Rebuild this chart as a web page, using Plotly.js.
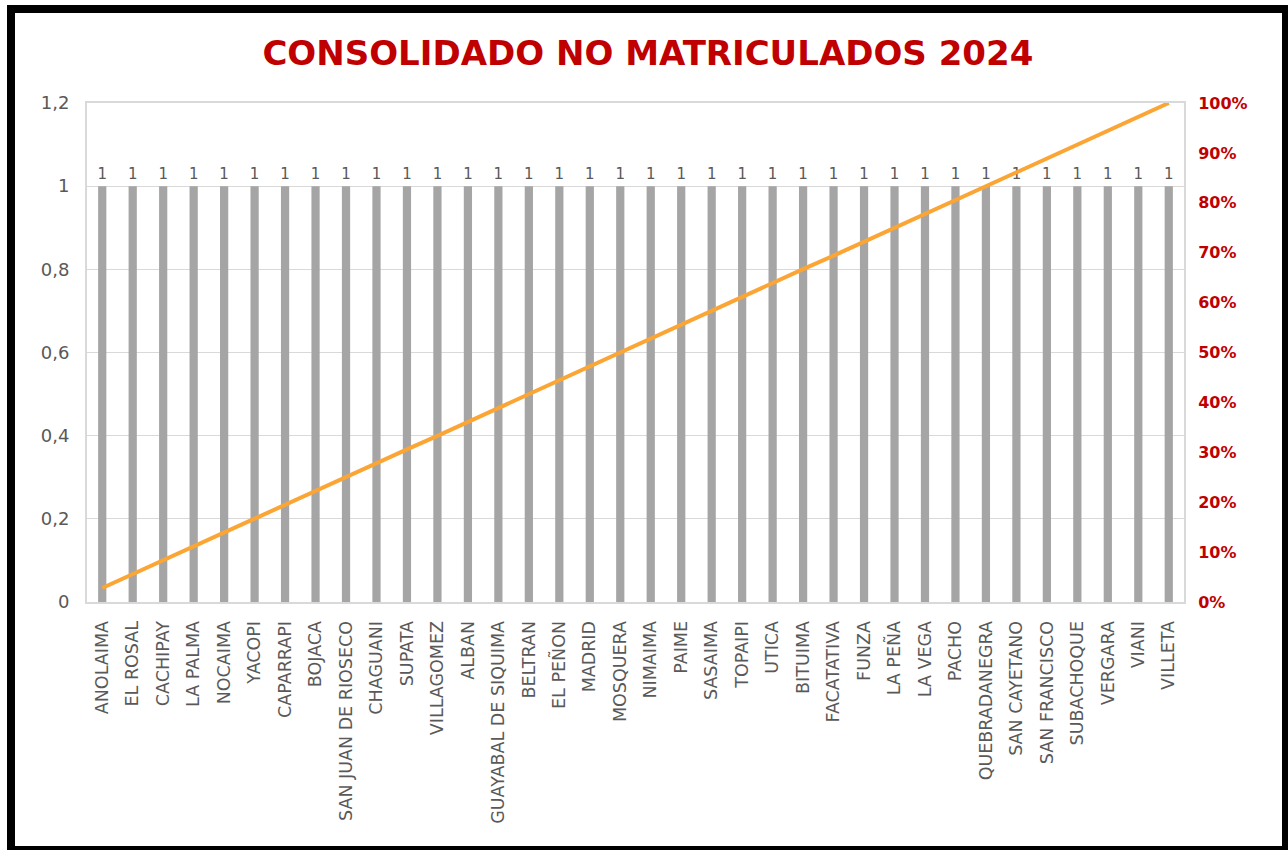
<!DOCTYPE html>
<html><head><meta charset="utf-8">
<script src="https://cdn.plot.ly/plotly-3.0.1.min.js"></script>
<style>
html,body{margin:0;padding:0;background:#fff;}
#wrap{position:relative;width:1288px;height:850px;overflow:hidden;}
#chart{position:absolute;left:0;top:0;width:1288px;height:850px;}
#frame{position:absolute;left:7px;top:5px;right:0;bottom:0;border-style:solid;border-color:#000;border-width:8px 6px 4px 8px;pointer-events:none;}
</style></head>
<body><div id="wrap"><div id="chart"></div><div id="frame"></div></div>
<script>
const municipios = ["ANOLAIMA","EL ROSAL","CACHIPAY","LA PALMA","NOCAIMA","YACOPI","CAPARRAPI","BOJACA","SAN JUAN DE RIOSECO","CHAGUANI","SUPATA","VILLAGOMEZ","ALBAN","GUAYABAL DE SIQUIMA","BELTRAN","EL PEÑON","MADRID","MOSQUERA","NIMAIMA","PAIME","SASAIMA","TOPAIPI","UTICA","BITUIMA","FACATATIVA","FUNZA","LA PEÑA","LA VEGA","PACHO","QUEBRADANEGRA","SAN CAYETANO","SAN FRANCISCO","SUBACHOQUE","VERGARA","VIANI","VILLETA"];
const noMatriculados = [1,1,1,1,1,1,1,1,1,1,1,1,1,1,1,1,1,1,1,1,1,1,1,1,1,1,1,1,1,1,1,1,1,1,1,1];
const porcentajeAcumulado = [2.8,5.6,8.3,11.1,13.9,16.7,19.4,22.2,25.0,27.8,30.6,33.3,36.1,38.9,41.7,44.4,47.2,50.0,52.8,55.6,58.3,61.1,63.9,66.7,69.4,72.2,75.0,77.8,80.6,83.3,86.1,88.9,91.7,94.4,97.2,100];
const titulo = "CONSOLIDADO NO MATRICULADOS 2024";

const gray = "#595959";
const traces = [
  {type:"bar", x:municipios, y:noMatriculados, marker:{color:"#A5A5A5"},
   text:noMatriculados.map(String), textposition:"outside", cliponaxis:false, constraintext:"none",
   textfont:{family:"DejaVu Sans, sans-serif", size:15, color:gray}, hoverinfo:"x+y"},
  {type:"scatter", mode:"lines", x:municipios, y:porcentajeAcumulado, yaxis:"y2",
   line:{color:"#FBA535", width:4}, hoverinfo:"x+y"}
];
const layout = {
  width:1288, height:850,
  margin:{l:87, r:104, t:103, b:248},
  paper_bgcolor:"#fff", plot_bgcolor:"#fff",
  separators:",.",
  showlegend:false,
  bargap:0.73,
  title:{text:titulo, x:0.503, xanchor:"center", y:0.937, yanchor:"middle",
    font:{family:"DejaVu Sans, sans-serif", size:34, color:"#C00000", weight:"bold"}},
  xaxis:{type:"category", tickangle:-90, ticks:"outside", ticklen:10, tickcolor:"rgba(0,0,0,0)",
    tickfont:{family:"DejaVu Sans, sans-serif", size:17.5, color:gray},
    showline:true, mirror:true, linecolor:"#D9D9D9", linewidth:2, showgrid:false},
  yaxis:{range:[0,1.2], dtick:0.2, tick0:0, ticks:"outside", ticklen:12, tickcolor:"rgba(0,0,0,0)",
    tickfont:{family:"DejaVu Sans, sans-serif", size:18, color:gray},
    showgrid:true, gridcolor:"#D9D9D9", gridwidth:1, zeroline:false,
    showline:true, mirror:true, linecolor:"#D9D9D9", linewidth:2},
  yaxis2:{overlaying:"y", side:"right", range:[0,100], dtick:10, tick0:0, ticksuffix:"%",
    ticks:"outside", ticklen:10, tickcolor:"rgba(0,0,0,0)",
    tickfont:{family:"DejaVu Sans, sans-serif", size:16, color:"#C00000", weight:"bold"},
    showgrid:false, zeroline:false, showline:false}
};
Plotly.newPlot("chart", traces, layout, {displayModeBar:false, staticPlot:true});
</script></body></html>
